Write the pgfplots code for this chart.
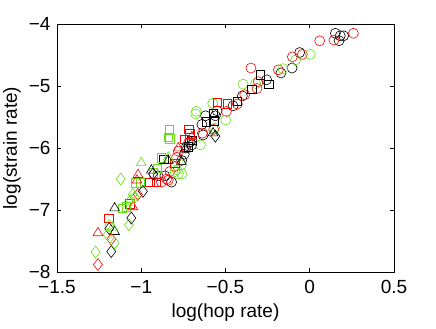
\documentclass[border=0pt]{standalone}
\usepackage{fontspec}
\setmainfont{Liberation Sans}
\usepackage{pgfplots}
\pgfplotsset{compat=1.18}
\definecolor{mgreen}{RGB}{100,225,20}

\pgfplotsset{
  mk/.style={only marks, mark options={line width=0.6bp, fill=none}},
}

\begin{document}
\fontsize{19bp}{22bp}\selectfont
\begin{tikzpicture}
\useasboundingbox (-57bp,-57bp) rectangle (379bp,272bp);
\begin{axis}[
  at={(0,0)}, anchor=south west,
  scale only axis,
  width=337bp, height=248bp,
  xmin=-1.5, xmax=0.5, ymin=-8, ymax=-4,
  xtick={-1.5,-1,-0.5,0,0.5},
  xticklabels={−1.5,−1,−0.5,0,0.5},
  ytick={-8,-7,-6,-5,-4},
  yticklabels={−8,−7,−6,−5,−4},
  tick align=inside,
  major tick length=4bp,
  axis line style={line width=0.7bp},
  every tick/.style={line width=0.6bp, black},
  tick label style={font=\fontsize{19bp}{22bp}\selectfont},
  xticklabel style={yshift=-2bp},
  label style={font=\fontsize{19bp}{22bp}\selectfont},
  xlabel={log(hop rate)},
  ylabel={log(strain rate)},
  xlabel style={at={(axis description cs:0.5,-0.165)}, anchor=center},
  ylabel style={at={(axis description cs:-0.1335,0.5)}, anchor=center},
  clip=false,
]
% black circles
\addplot[mk, black, mark=o, mark size=5bp] coordinates {
(0.152,-4.15) (0.181,-4.19) (0.174,-4.27) (0.201,-4.19) (-0.06,-4.46)
(-0.105,-4.71) (-0.171,-4.79) (-0.256,-4.90) (-0.40,-5.16) (-0.455,-5.32)
(-0.560,-5.48) (-0.618,-5.48) (-0.633,-5.79) (-0.70,-5.95) (-0.71,-5.90)
(-0.735,-6.0) (-0.745,-6.10) (-0.76,-6.20) (-0.82,-6.55) (-0.86,-6.45)
(-0.90,-6.45) (-0.55,-5.40) (-0.64,-5.62)
};
% red circles
\addplot[mk, red, mark=o, mark size=5bp] coordinates {
(0.259,-4.15) (0.059,-4.27) (0.144,-4.26) (-0.103,-4.53) (-0.044,-4.49)
(-0.186,-4.74) (-0.349,-4.71) (-0.305,-4.93) (-0.313,-5.04) (-0.386,-5.14)
(-0.430,-5.29) (-0.495,-5.41) (-0.637,-5.76) (-0.78,-6.05) (-0.79,-6.15)
(-0.80,-6.30) (-0.83,-6.38) (-0.85,-6.50) (-0.88,-6.55) (-0.84,-6.52)
(-0.72,-5.92) (-0.57,-5.70)
};
% green circles
\addplot[mk, mgreen, mark=o, mark size=5bp] coordinates {
(0.003,-4.49) (-0.084,-4.58) (-0.159,-4.72) (-0.321,-4.96) (-0.396,-4.97)
(-0.499,-5.55) (-0.576,-5.28) (-0.673,-5.41) (-0.677,-5.45) (-0.564,-5.68)
(-0.649,-5.95) (-0.762,-6.27) (-0.78,-6.42) (-0.76,-6.42) (-0.80,-6.38)
(-0.79,-6.35)
};
% black squares
\addplot[mk, black, mark=square, mark size=4.2bp] coordinates {
(-0.293,-4.82) (-0.242,-4.97) (-0.345,-5.05) (-0.574,-5.44) (-0.570,-5.56)
(-0.614,-5.58) (-0.865,-6.18) (-0.70,-5.88) (-0.72,-5.98) (-0.43,-5.25)
};
% red squares
\addplot[mk, red, mark=square, mark size=4.2bp] coordinates {
(-0.491,-5.29) (-0.547,-5.26) (-0.717,-5.70) (-0.713,-5.77) (-0.742,-5.86)
(-0.91,-6.55) (-0.95,-6.55) (-1.069,-6.90) (-1.193,-7.13) (-0.80,-6.25)
};
% green squares
\addplot[mk, mgreen, mark=square, mark size=4.2bp] coordinates {
(-0.835,-5.70) (-0.841,-5.83) (-0.831,-5.85) (-0.881,-6.16) (-0.905,-6.33)
(-1.033,-6.56) (-1.005,-6.56) (-1.112,-6.97) (-1.09,-6.95) (-0.93,-6.40)
};
% black triangles
\addplot[mk, black, mark=triangle, mark size=5.6bp] coordinates {
(-0.574,-5.76) (-0.762,-6.22) (-0.94,-6.36) (-1.158,-6.97) (-1.158,-7.35)
(-0.74,-6.02) (-0.84,-6.20)
};
% red triangles
\addplot[mk, red, mark=triangle, mark size=5.6bp] coordinates {
(-1.019,-6.43) (-1.025,-6.52) (-1.257,-7.37) (-1.05,-6.95) (-0.78,-6.0)
(-0.70,-5.82)
};
% green triangles
\addplot[mk, mgreen, mark=triangle, mark size=5.6bp] coordinates {
(-1.0,-6.24) (-0.84,-6.15) (-1.17,-7.28)
};
% black diamonds
\addplot[mk, black, mark=diamond, mark size=6bp] coordinates {
(-0.560,-5.81) (-1.059,-7.13) (-1.178,-7.67) (-0.99,-6.70) (-1.19,-7.30)
(-0.93,-6.42)
};
% red diamonds
\addplot[mk, red, mark=diamond, mark size=6bp] coordinates {
(-1.178,-7.47) (-1.257,-7.88) (-1.02,-6.75)
};
% green diamonds
\addplot[mk, mgreen, mark=diamond, mark size=6bp] coordinates {
(-1.122,-6.50) (-1.05,-6.75) (-1.04,-6.80) (-1.065,-6.85) (-1.073,-7.24)
(-1.158,-7.53) (-1.271,-7.68) (-1.19,-7.25) (-1.20,-7.40)
};
\end{axis}
\end{tikzpicture}
\end{document}
